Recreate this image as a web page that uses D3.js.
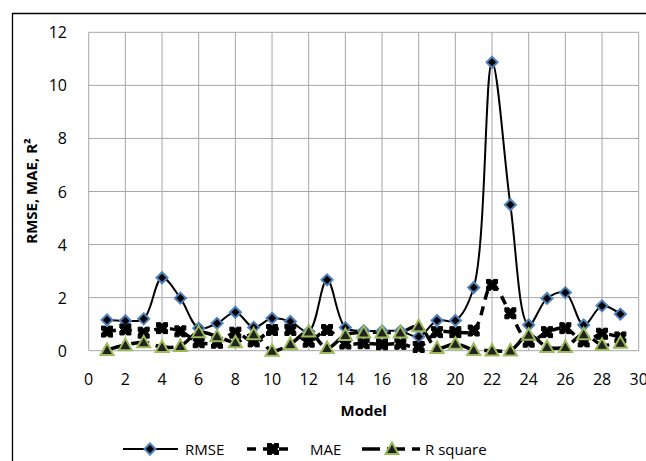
<!DOCTYPE html>
<html lang="en">
<head>
	<meta charset="UTF-8">
	<title>RMSE, MAE, R square by model</title>
	<style>
		body { margin: 0; background: #fff; }
		text { font-family: "Open Sans", "Noto Sans", sans-serif; fill: #000; }
	</style>
</head>
<body>
	<svg width="646" height="461"></svg>
<script src="https://d3js.org/d3.v7.min.js"></script>
<script>
const models = [1, 2, 3, 4, 5, 6, 7, 8, 9, 10, 11, 12, 13, 14, 15, 16, 17, 18, 19, 20, 21, 22, 23, 24, 25, 26, 27, 28, 29];
const rmse = [1.16, 1.13, 1.2, 2.75, 1.98, 0.85, 1.03, 1.45, 0.88, 1.22, 1.1, 0.72, 2.67, 0.87, 0.75, 0.74, 0.74, 0.53, 1.14, 1.14, 2.38, 10.87, 5.5, 0.97, 1.97, 2.19, 0.97, 1.69, 1.38];
const mae = [0.72, 0.8, 0.68, 0.85, 0.73, 0.32, 0.3, 0.68, 0.35, 0.78, 0.78, 0.34, 0.78, 0.27, 0.28, 0.24, 0.26, 0.14, 0.7, 0.7, 0.76, 2.48, 1.41, 0.34, 0.7, 0.85, 0.35, 0.64, 0.5];
const rsq = [0.03, 0.21, 0.32, 0.14, 0.18, 0.7, 0.54, 0.32, 0.62, 0.0, 0.25, 0.72, 0.1, 0.59, 0.69, 0.69, 0.69, 0.92, 0.1, 0.26, 0.03, 0.01, 0.01, 0.6, 0.14, 0.14, 0.62, 0.22, 0.3];
const xTicks = [0, 2, 4, 6, 8, 10, 12, 14, 16, 18, 20, 22, 24, 26, 28, 30];
const yTicks = [0, 2, 4, 6, 8, 10, 12];

const svg = d3.select("svg");

// outer chart frame (only left and top edges show)
svg.append("path")
    .attr("d", "M12.5,461 V13.5 H646")
    .attr("fill", "none")
    .attr("stroke", "#000")
    .attr("stroke-width", 1.3);

const x = d3.scaleLinear().domain([0, 30]).range([88.7, 638.7]);
const y = d3.scaleLinear().domain([0, 12]).range([350.7, 32.3]);

// grid
svg.append("g")
    .selectAll("line.v")
    .data(xTicks)
    .join("line")
    .attr("x1", d => x(d)).attr("x2", d => x(d))
    .attr("y1", y(12)).attr("y2", y(0))
    .attr("stroke", "#a6a6a6").attr("stroke-width", 1);

svg.append("g")
    .selectAll("line.h")
    .data(yTicks)
    .join("line")
    .attr("x1", x(0)).attr("x2", x(30))
    .attr("y1", d => y(d)).attr("y2", d => y(d))
    .attr("stroke", "#a6a6a6").attr("stroke-width", 1);

// tick labels
svg.append("g")
    .selectAll("text")
    .data(yTicks)
    .join("text")
    .attr("x", 67)
    .attr("y", d => y(d) + 6)
    .attr("text-anchor", "end")
    .style("font-size", "16px")
    .text(d => d);

svg.append("g")
    .selectAll("text")
    .data(xTicks)
    .join("text")
    .attr("x", d => x(d))
    .attr("y", 385)
    .attr("text-anchor", "middle")
    .style("font-size", "16px")
    .text(d => d);

// axis titles
svg.append("text")
    .attr("x", x(15))
    .attr("y", 416)
    .attr("text-anchor", "middle")
    .style("font-size", "15px")
    .style("font-weight", "bold")
    .text("Model");

svg.append("text")
    .attr("transform", "translate(37,191) rotate(-90)")
    .attr("text-anchor", "middle")
    .style("font-size", "15px")
    .style("font-weight", "bold")
    .text("RMSE, MAE, R²");

// series
const series = [
  { name: "RMSE", values: rmse, width: 2, dash: null, marker: "diamond" },
  { name: "MAE", values: mae, width: 3.5, dash: "9,7", marker: "star" },
  { name: "R square", values: rsq, width: 3.5, dash: "18,7", marker: "triangle" }
];

const line = d3.line()
    .x(d => x(d[0]))
    .y(d => y(d[1]))
    .curve(d3.curveCatmullRom.alpha(0.5));

series.forEach(s => {
  svg.append("path")
    .datum(models.map((m, i) => [m, s.values[i]]))
    .attr("d", line)
    .attr("fill", "none")
    .attr("stroke", "#000")
    .attr("stroke-width", s.width)
    .attr("stroke-dasharray", s.dash)
    .attr("stroke-linejoin", "round");
});

function drawMarker(g, type, cx, cy) {
  if (type === "diamond") {
    g.append("path")
      .attr("d", `M${cx},${cy - 5.5} L${cx + 5.5},${cy} L${cx},${cy + 5.5} L${cx - 5.5},${cy} Z`)
      .attr("fill", "#000")
      .attr("stroke", "#4f81bd")
      .attr("stroke-width", 2);
  } else if (type === "star") {
    const h = 5.5;
    g.append("path")
      .attr("d", `M${cx - h},${cy - h} L${cx - 1.5},${cy - h} L${cx},${cy - h + 2} L${cx + 1.5},${cy - h} L${cx + h},${cy - h}
        L${cx + h},${cy - 1.5} L${cx + h - 2},${cy} L${cx + h},${cy + 1.5} L${cx + h},${cy + h}
        L${cx + 1.5},${cy + h} L${cx},${cy + h - 2} L${cx - 1.5},${cy + h} L${cx - h},${cy + h}
        L${cx - h},${cy + 1.5} L${cx - h + 2},${cy} L${cx - h},${cy - 1.5} Z`)
      .attr("fill", "#000")
      .attr("stroke", "#000")
      .attr("stroke-width", 1);
  } else {
    g.append("path")
      .attr("d", `M${cx},${cy - 6.5} L${cx + 6.5},${cy + 5} L${cx - 6.5},${cy + 5} Z`)
      .attr("fill", "#222")
      .attr("stroke", "#9bbb59")
      .attr("stroke-width", 2);
  }
}

series.forEach(s => {
  const g = svg.append("g");
  models.forEach((m, i) => drawMarker(g, s.marker, x(m), y(s.values[i])));
});

// legend
const legend = [
  { s: series[0], x1: 123, x2: 178, mx: 150, tx: 185 },
  { s: series[1], x1: 247, x2: 292, mx: 273, tx: 310 },
  { s: series[2], x1: 362, x2: 420, mx: 392, tx: 425 }
];
const ly = 449;
legend.forEach(l => {
  const g = svg.append("g");
  g.append("line")
    .attr("x1", l.x1).attr("x2", l.x2)
    .attr("y1", ly).attr("y2", ly)
    .attr("stroke", "#000")
    .attr("stroke-width", l.s.width)
    .attr("stroke-dasharray", l.s.dash);
  drawMarker(g, l.s.marker, l.mx, ly);
  g.append("text")
    .attr("x", l.tx)
    .attr("y", ly + 5.5)
    .style("font-size", "15px")
    .text(l.s.name);
});
</script>
</body>
</html>
